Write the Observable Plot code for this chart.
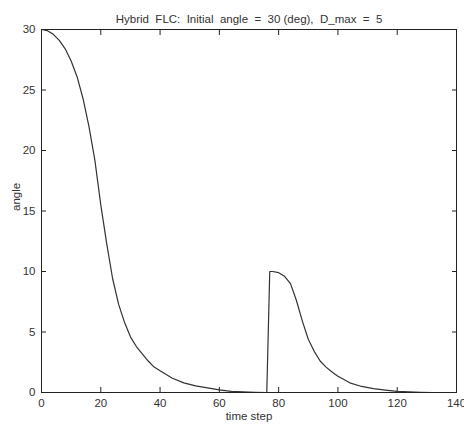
<!DOCTYPE html>
<html><head><meta charset="utf-8">
<script src="https://cdn.jsdelivr.net/npm/d3@7"></script>
<script src="https://cdn.jsdelivr.net/npm/@observablehq/plot@0.6"></script>
<style>
body{margin:0;background:#fff}
svg text{white-space:pre}
</style>
</head><body><div id="chart"></div>
<script>
const timeSteps = [0,2,4,6,8,10,12,14,16,18,20,22,24,26,28,30,32,34,36,38,40,44,48,52,56,60,64,68,72,76,
  77,78,80,82,84,86,88,90,92,94,96,98,100,104,108,112,116,120,124,128,132];
const angles = [30,29.9,29.6,29.1,28.4,27.4,26.1,24.3,22.0,19.2,15.5,12.3,9.4,7.3,5.8,4.6,3.8,3.2,2.6,2.1,1.8,1.2,0.8,0.55,0.38,0.22,0.1,0.05,0.02,0,
  10,10,9.9,9.6,9.0,7.6,5.9,4.4,3.4,2.6,2.1,1.7,1.35,0.8,0.5,0.32,0.2,0.1,0.05,0.02,0];
const xTicks = [0,20,40,60,80,100,120,140];
const yTicks = [0,5,10,15,20,25,30];
const titleText = "Hybrid  FLC:  Initial  angle  =  30 (deg),  D_max  =  5";
const xLabel = "time step";
const yLabel = "angle";

const data = timeSteps.map((t, i) => ({t, v: angles[i]}));
const font = '"Liberation Sans",Arial,sans-serif';
const blank = () => "";

const chart = Plot.plot({
  width: 464, height: 429,
  marginLeft: 41, marginRight: 8, marginTop: 29, marginBottom: 37,
  style: {fontFamily: font, fontSize: "11.5px", color: "#333", background: "#fff"},
  x: {domain: [0, 140]},
  y: {domain: [0, 30]},
  marks: [
    Plot.axisX(xTicks, {anchor: "bottom", tickSize: 0, tickPadding: 6, label: null}),
    Plot.axisY(yTicks, {anchor: "left", tickSize: 0, tickPadding: 6, label: null}),
    // inward ticks on all four sides
    Plot.axisX(xTicks, {anchor: "bottom", tickSize: 5, dy: -5, tickFormat: blank, label: null, stroke: "#222"}),
    Plot.axisX(xTicks, {anchor: "top", tickSize: 5, dy: 5, tickFormat: blank, label: null, stroke: "#222"}),
    Plot.axisY(yTicks, {anchor: "left", tickSize: 5, dx: 5, tickFormat: blank, label: null, stroke: "#222"}),
    Plot.axisY(yTicks, {anchor: "right", tickSize: 5, dx: -5, tickFormat: blank, label: null, stroke: "#222"}),
    Plot.line(data, {x: "t", y: "v", stroke: "#333", strokeWidth: 1.2}),
    Plot.frame({stroke: "#222"}),
    Plot.text([titleText], {frameAnchor: "top", dy: -15, text: d => d, fill: "#333"}),
    Plot.text([xLabel], {frameAnchor: "bottom", dy: 27, text: d => d, fill: "#333"}),
    Plot.text([yLabel], {frameAnchor: "left", dx: -25, rotate: -90, text: d => d, fill: "#333"})
  ]
});
document.getElementById("chart").appendChild(chart);
</script>
</body></html>
